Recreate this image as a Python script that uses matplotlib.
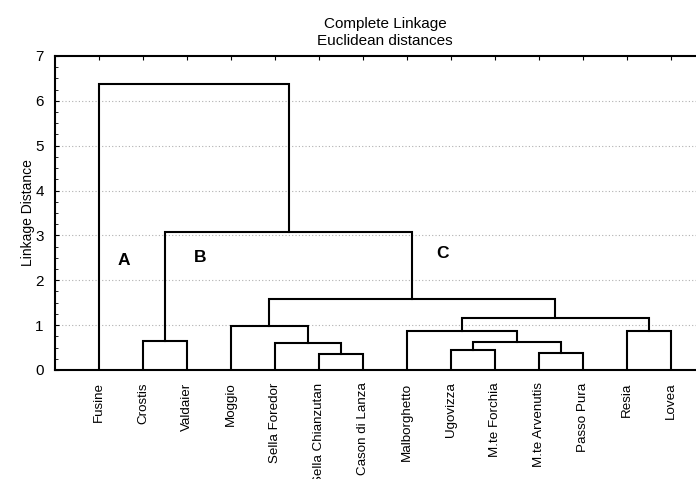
import matplotlib
matplotlib.use("Agg")
import matplotlib.pyplot as plt
from matplotlib.ticker import MultipleLocator

plt.rcParams["font.family"] = ["Liberation Sans", "DejaVu Sans"]
plt.rcParams["font.size"] = 10

# leaves in dendrogram order
labels = ["Fusine", "Crostis", "Valdaier", "Moggio", "Sella Foredor",
          "Sella Chianzutan", "Cason di Lanza", "Malborghetto", "Ugovizza",
          "M.te Forchia", "M.te Arvenutis", "Passo Pura", "Resia", "Lovea"]

# merges: left node, right node, linkage distance (new nodes numbered from 14)
merge_left = [5, 4, 3, 1, 8, 10, 18, 7, 12, 21, 16, 17, 0]
merge_right = [6, 14, 15, 2, 9, 11, 19, 20, 13, 22, 23, 24, 25]
merge_height = [0.35, 0.61, 0.99, 0.65, 0.45, 0.37, 0.63, 0.88, 0.88, 1.15, 1.58, 3.07, 6.38]

group_names = ["A", "B", "C"]
group_x = [1.57, 3.3, 8.8]
group_y = [2.45, 2.5, 2.6]

fig = plt.figure(figsize=(6.96, 4.79), dpi=100)
ax = fig.add_axes([0.079, 0.2276, 0.948, 0.6555])

# node positions: leaves at 1..n, height 0
xpos = [i + 1 for i in range(len(labels))]
ypos = [0.0] * len(labels)
for l, r, h in zip(merge_left, merge_right, merge_height):
    ax.plot([xpos[l], xpos[l], xpos[r], xpos[r]], [ypos[l], h, h, ypos[r]],
            color="black", lw=1.5, solid_joinstyle="miter", zorder=3)
    xpos.append((xpos[l] + xpos[r]) / 2)
    ypos.append(h)

for name, x, y in zip(group_names, group_x, group_y):
    ax.text(x, y, name, fontsize=12.5, fontweight="bold", ha="center", va="center")

ax.set_xlim(0, len(labels) + 1)
ax.set_ylim(0, 7)
ax.set_xticks(range(1, len(labels) + 1))
ax.set_xticklabels(labels, rotation=90, va="top", ha="center", fontsize=9.6)
ax.yaxis.set_major_locator(MultipleLocator(1))
ax.yaxis.set_minor_locator(MultipleLocator(0.25))
ax.tick_params(axis="x", bottom=False, top=True, direction="in", length=3, pad=9)
ax.tick_params(axis="y", which="major", direction="in", length=3, pad=8, labelsize=11)
ax.tick_params(axis="y", which="minor", direction="in", length=2)

for y in range(1, 7):
    ax.axhline(y, color="#b0b0b0", lw=0.8, ls=(0, (1, 2)), zorder=1)

for s in ax.spines.values():
    s.set_linewidth(1.5)

ax.set_ylabel("Linkage Distance")
ax.yaxis.set_label_coords(-0.031, 0.5)
ax.set_title("Complete Linkage\nEuclidean distances", fontsize=11, pad=8, linespacing=1.3)

fig.savefig("out.png", dpi=100)
